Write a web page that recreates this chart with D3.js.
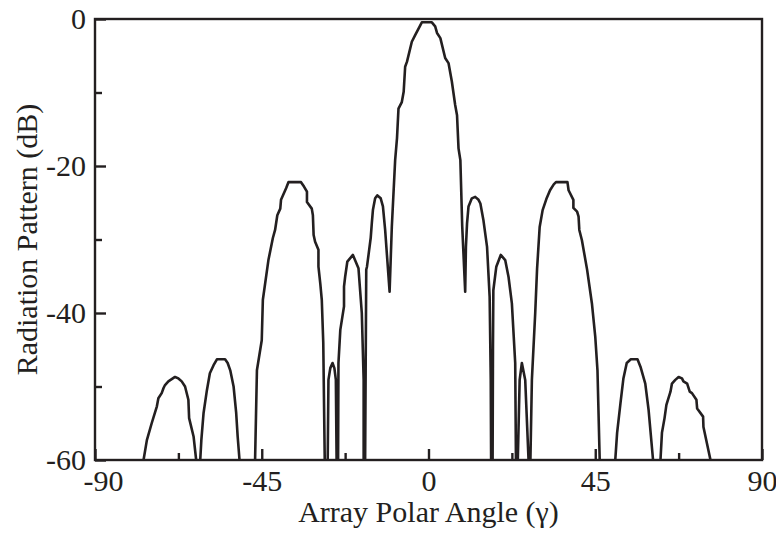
<!DOCTYPE html>
<html>
<head>
<meta charset="utf-8">
<script src="https://d3js.org/d3.v7.min.js"></script>
<style>
  body { margin: 0; background: #fff; }
  text { font-family: "Liberation Serif", "Times New Roman", serif; fill: #231f20; }
</style>
</head>
<body>
<div id="chart"></div>
<script>
// angle (deg) and radiation pattern (dB); -70 marks nulls below the axis
var angle = [
  -76.9, -76.0, -74.7, -73.3, -72.9, -72.0, -71.5, -71.1, -70.2, -69.3, -68.4, -67.5, -66.6, -65.7, -64.8, -64.6, -63.4, -62.7,
  -62.2,
  -61.6, -61.3, -60.7, -59.8, -59.0, -58.0, -57.1, -54.9, -54.2, -53.5, -52.6, -51.9, -51.5, -51.0,
  -48.9,
  -46.8, -46.3, -45.0, -44.7, -43.2, -42.0, -41.4, -40.8, -40.0, -39.8, -38.4, -37.8, -34.4, -33.6, -32.8, -32.8, -31.5, -31.2, -31.0, -30.6, -29.7, -29.7, -29.2, -28.8, -28.4, -28.0,
  -27.65,
  -27.2, -27.0, -26.5, -25.9, -25.4, -25.0, -24.8,
  -24.6,
  -24.4, -24.3, -23.8, -22.8, -22.8, -22.5, -21.9, -20.4, -18.9, -18.0, -17.5, -17.5,
  -17.3,
  -17.1, -16.8, -16.6, -15.6, -15.3, -15.0, -14.4, -13.8, -12.9, -12.3, -11.7, -10.5,
  -9.9, -9.0, -8.5, -8.1, -7.2, -6.7, -6.3, -5.8, -4.5, -3.6, -1.8, 0.9, 1.8, 2.3, 3.2, 4.5, 5.4, 6.3, 7.2, 7.7, 8.1, 8.6, 9.1, 9.9,
  10.1, 10.4, 10.8, 11.7, 12.6, 13.5, 14.0, 14.8, 15.8, 16.5, 16.8, 16.9,
  17.1,
  17.3, 17.4, 17.5, 18.3, 19.5, 20.7, 21.6, 22.5, 23.4, 23.6,
  23.8,
  24.1, 24.6, 25.2, 26.1, 27.0,
  27.25,
  27.5, 27.9, 28.8, 29.3, 30.0, 30.8, 31.8, 32.8, 33.8, 34.4, 37.5, 37.8, 39.1, 39.1, 40.1, 40.5, 40.7, 41.4, 42.8, 44.1, 45.0, 45.6, 46.2,
  48.3,
  50.4, 50.9, 51.8, 52.6, 53.5, 54.6, 56.4, 57.2, 58.5, 59.4, 60.6,
  61.6,
  62.6, 63.0, 63.7, 64.2, 65.3, 65.7, 66.6, 67.5, 68.4, 68.8, 69.8, 70.5, 71.1, 72.3, 72.5, 74.1, 74.2, 76.1
];
var pattern = [
  -60, -57.3, -55.0, -52.7, -51.6, -50.9, -50.2, -49.8, -49.3, -49.0, -48.7, -48.9, -49.3, -50.0, -51.8, -54.3, -56.8, -60,
  -70,
  -60, -57.3, -53.6, -50.5, -48.2, -47.1, -46.3, -46.3, -46.8, -47.8, -50.0, -53.6, -56.8, -60,
  -70,
  -60, -47.8, -43.7, -38.2, -32.8, -29.8, -28.7, -26.7, -25.8, -24.6, -23.0, -22.2, -22.2, -22.8, -23.5, -24.9, -25.8, -26.7, -29.4, -30.3, -31.4, -33.7, -36.0, -38.2, -44.0, -60,
  -70,
  -60, -49.1, -47.5, -46.8, -47.5, -49.1, -60,
  -70,
  -60, -46.8, -42.3, -39.1, -36.4, -35.1, -33.0, -32.1, -33.9, -40.0, -49.1, -60,
  -70,
  -60, -34.1, -33.7, -29.8, -27.8, -26.0, -24.4, -24.0, -24.4, -25.5, -28.7, -37.1,
  -28.3, -19.2, -16.2, -12.2, -11.3, -9.9, -6.5, -5.8, -3.1, -2.2, -0.45, -0.45, -1.0, -1.9, -2.6, -5.3, -6.0, -8.5, -11.7, -13.1, -17.6, -19.2, -28.2, -37.1,
  -31.0, -27.8, -25.5, -24.4, -24.2, -24.6, -25.1, -27.3, -31.0, -37.8, -49.1, -60,
  -70,
  -60, -44.6, -36.9, -33.7, -32.1, -32.8, -35.1, -38.7, -46.8, -60,
  -70,
  -60, -49.1, -46.8, -49.1, -60,
  -70,
  -60, -49.1, -40.0, -34.0, -28.3, -26.0, -24.5, -23.3, -22.5, -22.2, -22.2, -23.3, -24.6, -25.7, -26.2, -26.9, -28.7, -30.1, -34.1, -38.7, -43.2, -47.8, -60,
  -70,
  -60, -56.3, -52.3, -48.9, -46.8, -46.3, -46.3, -47.3, -49.6, -53.2, -60,
  -70,
  -60, -56.3, -54.3, -52.5, -50.7, -49.6, -49.1, -48.7, -48.9, -49.3, -49.6, -50.7, -50.9, -51.8, -53.0, -54.1, -55.5, -60
];

// ticks
var xMajor = [-90, -45, 0, 45, 90];
var xMinor = [-67.5, -22.5, 22.5, 67.5];
var yMajor = [-60, -40, -20, 0];
var yMinor = [-50, -30, -10];

var margin = {top: 19, right: 14, bottom: 75, left: 95},
    width = 776 - margin.left - margin.right,
    height = 535 - margin.top - margin.bottom;

var ink = "#231f20";

var svg = d3.select("#chart")
  .append("svg")
    .attr("width", 776)
    .attr("height", 535)
  .append("g")
    .attr("transform", "translate(" + margin.left + "," + margin.top + ")");

var x = d3.scaleLinear().domain([-90, 90]).range([0, width]);
var y = d3.scaleLinear().domain([-60, 0]).range([height, 0]);

svg.append("clipPath")
    .attr("id", "plotclip")
  .append("rect")
    .attr("width", width)
    .attr("height", height);

// the pattern
var pts = angle.map(function(a, i) { return [a, pattern[i]]; });

var line = d3.line()
  .x(function(d) { return x(d[0]); })
  .y(function(d) { return y(d[1]); });

svg.append("path")
  .datum(pts)
  .attr("clip-path", "url(#plotclip)")
  .attr("fill", "none")
  .attr("stroke", ink)
  .attr("stroke-width", 2.6)
  .attr("stroke-linejoin", "round")
  .attr("d", line);

// axes, ticks pointing inward
function styleAxis(g) {
  g.select(".domain").remove();
  g.selectAll(".tick line").attr("stroke", ink).attr("stroke-width", 2.4);
  g.selectAll("text").style("font-size", "30px").attr("fill", ink);
}

svg.append("g")
  .attr("transform", "translate(0," + height + ")")
  .call(d3.axisBottom(x).tickValues(xMajor).tickSize(-11).tickPadding(10).tickFormat(d3.format("d")))
  .call(styleAxis)
  .selectAll("text")
    .attr("dx", function(d) { return d === -90 ? 8 : 0; })
    .text(function(d) { return d < 0 ? "-" + (-d) : d; });

svg.append("g")
  .attr("transform", "translate(0," + height + ")")
  .call(d3.axisBottom(x).tickValues(xMinor).tickSize(-7).tickFormat(""))
  .call(styleAxis);

svg.append("g")
  .call(d3.axisLeft(y).tickValues(yMajor).tickSize(-11).tickPadding(9))
  .call(styleAxis)
  .selectAll("text")
    .text(function(d) { return d < 0 ? "-" + (-d) : d; });

svg.append("g")
  .call(d3.axisLeft(y).tickValues(yMinor).tickSize(-7).tickFormat(""))
  .call(styleAxis);

// frame
svg.append("rect")
  .attr("width", width)
  .attr("height", height)
  .attr("fill", "none")
  .attr("stroke", ink)
  .attr("stroke-width", 2.4);

// axis titles
svg.append("text")
  .attr("x", width / 2)
  .attr("y", height + 62)
  .attr("text-anchor", "middle")
  .style("font-size", "30px")
  .text("Array Polar Angle (\u03b3)");

svg.append("text")
  .attr("transform", "translate(" + (37 - margin.left) + "," + (height / 2) + ")rotate(-90)")
  .attr("text-anchor", "middle")
  .style("font-size", "30px")
  .text("Radiation Pattern (dB)");
</script>
</body>
</html>
